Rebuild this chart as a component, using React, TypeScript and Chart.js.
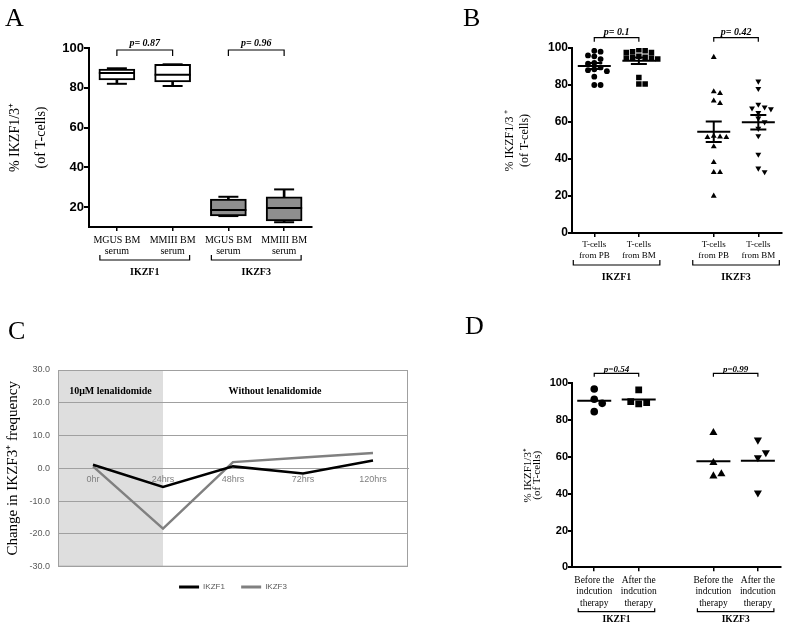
import React, { useEffect, useRef } from 'react';
import { Chart, registerables } from 'chart.js';

Chart.register(...registerables);

const SERIF = '"Liberation Serif", "Times New Roman", serif';
const SANS = '"Liberation Sans", Arial, sans-serif';

// ---------------- Panel A (box plots) ----------------
const A_CATEGORIES = [['MGUS BM', 'serum'], ['MMIII BM', 'serum'], ['MGUS BM', 'serum'], ['MMIII BM', 'serum']];
const A_MIN = [82.0, 80.9, 15.5, 12.4];
const A_Q1 = [83.9, 82.9, 15.6, 13.1];
const A_MEDIAN = [87.4, 86.6, 18.6, 19.6];
const A_Q3 = [89.4, 91.8, 24.0, 25.2];
const A_MAX = [89.8, 91.8, 25.2, 28.9];
const A_Y_TICKS = [20, 40, 60, 80, 100];
const A_GENES = ['IKZF1', 'IKZF3'];
const A_P_VALUES = ['p= 0.87', 'p= 0.96'];

// ---------------- Panel B (dot plots, mean ± SEM) ----------------
const B_CATEGORIES = [['T-cells', 'from PB'], ['T-cells', 'from BM'], ['T-cells', 'from PB'], ['T-cells', 'from BM']];
const B_IKZF1_PB = [98.5, 98, 96, 95.5, 94, 92, 91.5, 89.5, 88.5, 88, 87.5, 84.5, 80, 80];
const B_IKZF1_BM = [99, 98.5, 98, 97.5, 97.5, 95.5, 95, 95, 94.5, 94.5, 94, 84, 80.5, 80.5];
const B_IKZF3_PB = [95, 76.4, 75.5, 71.4, 70.1, 52.4, 52, 51.7, 51.7, 46.7, 38.2, 32.8, 32.8, 20];
const B_IKZF3_BM = [82, 78, 69.5, 68, 67.5, 67, 65, 62, 60, 56.5, 52.5, 42.5, 35, 33];
const B_GENES = ['IKZF1', 'IKZF3'];
const B_P_VALUES = ['p= 0.1', 'p= 0.42'];

// ---------------- Panel C (time course) ----------------
const C_TIMES = ['0hr', '24hrs', '48hrs', '72hrs', '120hrs'];
const C_IKZF1 = [1.1, -5.7, 0.6, -1.6, 2.4];
const C_IKZF3 = [0.6, -18.4, 1.9, 3.3, 4.7];
const C_PHASES = ['10\u03bcM lenalidomide', 'Without lenalidomide'];

// ---------------- Panel D (dot plots, mean) ----------------
const D_CATEGORIES = [
  ['Before the', 'indcution', 'therapy'],
  ['After the', 'indcution', 'therapy'],
  ['Before the', 'indcution', 'therapy'],
  ['After the', 'indcution', 'therapy'],
];
const D_IKZF1_BEFORE = [96.9, 91.3, 89.1, 84.6];
const D_IKZF1_AFTER = [96.4, 88.8, 89.5, 90.0];
const D_IKZF3_BEFORE = [73.2, 56.9, 49.6, 50.7];
const D_IKZF3_AFTER = [69.2, 59.6, 62.3, 40.5];
const D_GENES = ['IKZF1', 'IKZF3'];
const D_P_VALUES = ['p=0.54', 'p=0.99'];

// column positions on the dot-plot x axes (layout)
const COLUMN_POS = [1, 2, 3.68, 4.68];

const mean = (a: number[]) => a.reduce((s, v) => s + v, 0) / a.length;
const sem = (a: number[]) => {
  const m = mean(a);
  const sd = Math.sqrt(a.reduce((s, v) => s + (v - m) * (v - m), 0) / (a.length - 1));
  return sd / Math.sqrt(a.length);
};

// greedy scatter-dot layout: a point moves sideways when it would overlap another
function beeswarm(values: number[], center: number, pxPerY: number, pxPerX: number, size: number) {
  const placed: { k: number; v: number }[] = [];
  const slots = [0, 1, -1, 2, -2, 3, -3, 4, -4];
  const minGap = 0.8 * size;
  return values.map((v) => {
    let k = 0;
    for (const s of slots) {
      if (placed.every((p) => p.k !== s || Math.abs(p.v - v) * pxPerY >= minGap)) {
        k = s;
        break;
      }
    }
    placed.push({ k, v });
    return { x: center + (k * size) / pxPerX, y: v };
  });
}

function annotationPlugin(c: any) {
  return {
    id: c.id,
    afterDraw(chart: any) {
      const { ctx, chartArea: a } = chart;
      const x = chart.scales.x;
      ctx.save();
      ctx.strokeStyle = '#000';
      ctx.fillStyle = '#000';
      ctx.lineWidth = 1.2;
      ctx.textAlign = 'center';
      ctx.textBaseline = 'middle';
      c.genes.forEach((gene: string, g: number) => {
        const x1 = x.getPixelForValue(c.xs[g * 2]);
        const x2 = x.getPixelForValue(c.xs[g * 2 + 1]);
        const py = a.top + c.pLineDy;
        ctx.beginPath();
        ctx.moveTo(x1, py + c.pTickDy);
        ctx.lineTo(x1, py);
        ctx.lineTo(x2, py);
        ctx.lineTo(x2, py + c.pTickDy);
        ctx.stroke();
        ctx.font = `italic bold ${c.pFontSize}px ${SERIF}`;
        ctx.fillText(c.pValues[g], (x1 + x2) / 2, a.top + c.pTextDy);
        const gy = a.bottom + c.gLineDy;
        ctx.beginPath();
        ctx.moveTo(x1 - c.gExtend, gy - c.gTickDy);
        ctx.lineTo(x1 - c.gExtend, gy);
        ctx.lineTo(x2 + c.gExtend, gy);
        ctx.lineTo(x2 + c.gExtend, gy - c.gTickDy);
        ctx.stroke();
        ctx.font = `bold ${c.gFontSize}px ${SERIF}`;
        ctx.fillText(gene, (x1 + x2) / 2, a.bottom + c.gTextDy);
      });
      ctx.restore();
    },
  };
}

function makeA(canvas: HTMLCanvasElement) {
  const boxFill = ['#ffffff', '#ffffff', '#8f8f8f', '#8f8f8f'];
  const capLine = (data: number[], r: number) => ({
    type: 'line',
    data,
    showLine: false,
    pointStyle: 'line',
    pointRadius: r,
    pointHoverRadius: r,
    pointBorderWidth: 2,
    pointBorderColor: '#000',
  });
  return new Chart(canvas, {
    type: 'bar',
    data: {
      labels: A_CATEGORIES,
      datasets: [
        capLine(A_MEDIAN, 18),
        capLine(A_MAX, 10),
        capLine(A_MIN, 10),
        {
          type: 'bar',
          data: A_Q1.map((q, i) => [q, A_Q3[i]]),
          backgroundColor: boxFill,
          borderColor: '#000',
          borderWidth: 2,
          borderSkipped: false,
          barThickness: 36,
          grouped: false,
        },
        {
          type: 'bar',
          data: A_MIN.map((m, i) => [m, A_MAX[i]]),
          backgroundColor: '#000',
          borderWidth: 0,
          barThickness: 2,
          grouped: false,
        },
      ] as any,
    },
    options: {
      responsive: false,
      animation: false,
      layout: { padding: { top: 48, right: 88, bottom: 0, left: 0 } },
      plugins: { legend: { display: false }, tooltip: { enabled: false } },
      scales: {
        x: {
          offset: true,
          grid: { offset: false, drawOnChartArea: false, tickLength: 4, color: '#000', lineWidth: 1.5 },
          border: { color: '#000', width: 2 },
          ticks: { color: '#000', font: { family: SERIF, size: 10, lineHeight: 1.1 }, padding: 3.5, maxRotation: 0, autoSkip: false },
          afterFit: (s: any) => { s.height = 78; },
        },
        y: {
          min: 10,
          max: 100,
          afterBuildTicks: (s: any) => { s.ticks = A_Y_TICKS.map((v) => ({ value: v })); },
          grid: { drawOnChartArea: false, tickLength: 5, color: '#000', lineWidth: 2 },
          border: { color: '#000', width: 2 },
          ticks: { color: '#000', font: { family: SANS, size: 13, weight: 'bold' }, padding: 0 },
          title: {
            display: true,
            text: ['% IKZF1/3\u207a', '(of T-cells)'],
            color: '#000',
            font: { family: SERIF, size: 14, lineHeight: 1.85 },
            padding: { top: 2, bottom: 0 },
          },
          afterFit: (s: any) => { s.width = 89; },
        },
      },
    } as any,
    plugins: [
      annotationPlugin({
        id: 'annA', xs: [0, 1, 2, 3], genes: A_GENES, pValues: A_P_VALUES, pFontSize: 10,
        pTextDy: -5, pLineDy: 2, pTickDy: 6, gLineDy: 33, gTickDy: 5, gTextDy: 45, gExtend: 17, gFontSize: 10,
      }),
    ],
  });
}

function makeDots(canvas: HTMLCanvasElement, cfg: any) {
  const datasets: any[] = [];
  cfg.groups.forEach((vals: number[], i: number) => {
    const st = cfg.styles[i];
    datasets.push({
      data: beeswarm(vals, COLUMN_POS[i], cfg.pxPerY, cfg.pxPerX, cfg.slot),
      pointStyle: st.pointStyle,
      pointRadius: st.radius,
      pointHoverRadius: st.radius,
      pointRotation: st.rotation,
      pointBackgroundColor: '#000',
      pointBorderWidth: 0,
    });
  });
  const means = cfg.groups.map((vals: number[], i: number) => ({ x: COLUMN_POS[i], y: mean(vals) }));
  datasets.push({
    data: means,
    pointStyle: 'line',
    pointRadius: cfg.meanRadius,
    pointHoverRadius: cfg.meanRadius,
    pointBorderWidth: 2,
    pointBorderColor: '#000',
  });
  if (cfg.showSem) {
    const sems = cfg.groups.map((vals: number[]) => sem(vals));
    datasets.push({
      data: means.flatMap((m: any, i: number) => [
        { x: m.x, y: m.y - sems[i] },
        { x: m.x, y: m.y + sems[i] },
        { x: m.x, y: null },
      ]),
      showLine: true,
      borderColor: '#000',
      borderWidth: 2,
      pointRadius: 0,
      pointHoverRadius: 0,
    });
    datasets.push({
      data: means.flatMap((m: any, i: number) => [
        { x: m.x, y: m.y - sems[i] },
        { x: m.x, y: m.y + sems[i] },
      ]),
      pointStyle: 'line',
      pointRadius: 8,
      pointHoverRadius: 8,
      pointBorderWidth: 2,
      pointBorderColor: '#000',
    });
  }
  return new Chart(canvas, {
    type: 'scatter',
    data: { datasets },
    options: {
      responsive: false,
      animation: false,
      layout: { padding: cfg.padding },
      plugins: { legend: { display: false }, tooltip: { enabled: false } },
      scales: {
        x: {
          type: 'linear',
          min: 0.5,
          max: 5.2,
          afterBuildTicks: (s: any) => { s.ticks = COLUMN_POS.map((v) => ({ value: v })); },
          grid: { drawOnChartArea: false, tickLength: 4, color: '#000', lineWidth: 1.5 },
          border: { color: '#000', width: 2 },
          ticks: {
            color: '#000',
            font: { family: SERIF, size: cfg.xFont, lineHeight: cfg.xLineHeight },
            padding: cfg.xPad,
            maxRotation: 0,
            autoSkip: false,
            callback: (_v: any, i: number) => cfg.categories[i],
          },
          afterFit: (s: any) => { s.height = cfg.xHeight; },
        },
        y: {
          min: 0,
          max: 100,
          ticks: { stepSize: 20, color: '#000', font: { family: SANS, size: cfg.yFont, weight: 'bold' }, padding: 0 },
          grid: { drawOnChartArea: false, tickLength: 4, color: '#000', lineWidth: 2 },
          border: { color: '#000', width: 2 },
          title: {
            display: true,
            text: cfg.yTitle,
            color: '#000',
            font: { family: SERIF, size: cfg.titleFont, lineHeight: cfg.titleLineHeight },
            padding: { top: cfg.titlePad, bottom: 0 },
          },
          afterFit: (s: any) => { s.width = cfg.yWidth; },
        },
      },
    } as any,
    plugins: [annotationPlugin({ id: cfg.id, xs: COLUMN_POS, ...cfg.anno })],
  });
}

function makeC(canvas: HTMLCanvasElement) {
  const shade = {
    id: 'cShade',
    beforeDraw(chart: any) {
      const { ctx, chartArea: a, scales } = chart;
      const xEnd = scales.x.getPixelForValue(1);
      ctx.save();
      ctx.fillStyle = '#dedede';
      ctx.fillRect(a.left, a.top, xEnd - a.left, a.bottom - a.top);
      ctx.restore();
    },
    afterDraw(chart: any) {
      const { ctx, chartArea: a, scales } = chart;
      const xEnd = scales.x.getPixelForValue(1);
      ctx.save();
      ctx.strokeStyle = '#a0a0a0';
      ctx.lineWidth = 1;
      ctx.strokeRect(a.left + 0.5, a.top + 0.5, a.right - a.left - 1, a.bottom - a.top - 1);
      ctx.fillStyle = '#000';
      ctx.font = `bold 10px ${SERIF}`;
      ctx.textAlign = 'center';
      ctx.textBaseline = 'middle';
      ctx.fillText(C_PHASES[0], (a.left + xEnd) / 2, a.top + 21);
      ctx.fillText(C_PHASES[1], scales.x.getPixelForValue(2.6), a.top + 21);
      ctx.restore();
    },
  };
  return new Chart(canvas, {
    type: 'line',
    data: {
      labels: C_TIMES,
      datasets: [
        { label: 'IKZF1', data: C_IKZF1, borderColor: '#000000', backgroundColor: '#000000', borderWidth: 2.5, pointRadius: 0, tension: 0 },
        { label: 'IKZF3', data: C_IKZF3, borderColor: '#808080', backgroundColor: '#808080', borderWidth: 2.5, pointRadius: 0, tension: 0 },
      ],
    },
    options: {
      responsive: false,
      animation: false,
      layout: { padding: { top: 60, right: 32, left: 0, bottom: 30 } },
      plugins: {
        tooltip: { enabled: false },
        legend: {
          position: 'bottom',
          fullSize: false,
          labels: {
            boxWidth: 20,
            boxHeight: 3,
            padding: 16.3,
            color: '#595959',
            font: { family: SANS, size: 8 },
            generateLabels: (chart: any) =>
              (Chart.defaults.plugins.legend.labels.generateLabels as any)(chart).map((l: any) => ({
                ...l,
                fillStyle: l.strokeStyle,
                lineWidth: 0,
              })),
          },
        },
      },
      scales: {
        x: {
          offset: true,
          position: { y: 0 },
          grid: { drawOnChartArea: false, drawTicks: false },
          border: { color: '#a0a0a0', width: 1 },
          ticks: { color: '#7f7f7f', font: { family: SANS, size: 9 }, padding: 6, maxRotation: 0, autoSkip: false },
        },
        y: {
          min: -30,
          max: 30,
          ticks: {
            stepSize: 10,
            color: '#595959',
            font: { family: SANS, size: 9 },
            padding: 8,
            callback: (v: any) => Number(v).toFixed(1),
          },
          grid: { color: '#a0a0a0', lineWidth: 1, drawTicks: false },
          border: { color: '#a0a0a0', width: 1 },
          title: {
            display: true,
            text: 'Change in IKZF3\u207a frequency',
            color: '#000',
            font: { family: SERIF, size: 15, lineHeight: 1.2 },
            padding: { top: 4, bottom: 0 },
          },
          afterFit: (s: any) => { s.width = 58; },
        },
      },
    } as any,
    plugins: [shade],
  });
}

const letterStyle = (left: number, top: number): React.CSSProperties => ({
  position: 'absolute',
  left,
  top,
  fontFamily: SERIF,
  fontSize: 26,
  lineHeight: '26px',
  color: '#000',
});

export default function App() {
  const aRef = useRef<HTMLCanvasElement>(null);
  const bRef = useRef<HTMLCanvasElement>(null);
  const cRef = useRef<HTMLCanvasElement>(null);
  const dRef = useRef<HTMLCanvasElement>(null);

  useEffect(() => {
    const charts: Chart[] = [];
    charts.push(makeA(aRef.current!));
    charts.push(
      makeDots(bRef.current!, {
        id: 'annB',
        groups: [B_IKZF1_PB, B_IKZF1_BM, B_IKZF3_PB, B_IKZF3_BM],
        styles: [
          { pointStyle: 'circle', radius: 2.9, rotation: 0 },
          { pointStyle: 'rect', radius: 3.9, rotation: 0 },
          { pointStyle: 'triangle', radius: 3.4, rotation: 0 },
          { pointStyle: 'triangle', radius: 3.4, rotation: 180 },
        ],
        categories: B_CATEGORIES,
        showSem: true,
        meanRadius: 16.5,
        pxPerY: 1.85,
        pxPerX: 47.45,
        slot: 6.7,
        padding: { top: 48, left: 100, right: 5, bottom: 0 },
        xFont: 9,
        xLineHeight: 1.2,
        xPad: 2.6,
        xHeight: 72,
        yFont: 12,
        yTitle: ['% IKZF1/3 \u207a', '(of T-cells)'],
        titleFont: 12,
        titleLineHeight: 1.25,
        titlePad: 2.5,
        yWidth: 72,
        anno: {
          genes: B_GENES, pValues: B_P_VALUES, pFontSize: 10,
          pTextDy: -15.7, pLineDy: -10.3, pTickDy: 4, gLineDy: 32, gTickDy: 5, gTextDy: 44, gExtend: 21, gFontSize: 10,
        },
      })
    );
    charts.push(makeC(cRef.current!));
    charts.push(
      makeDots(dRef.current!, {
        id: 'annD',
        groups: [D_IKZF1_BEFORE, D_IKZF1_AFTER, D_IKZF3_BEFORE, D_IKZF3_AFTER],
        styles: [
          { pointStyle: 'circle', radius: 3.8, rotation: 0 },
          { pointStyle: 'rect', radius: 4.8, rotation: 0 },
          { pointStyle: 'triangle', radius: 4.7, rotation: 0 },
          { pointStyle: 'triangle', radius: 4.7, rotation: 180 },
        ],
        categories: D_CATEGORIES,
        showSem: false,
        meanRadius: 17,
        pxPerY: 1.84,
        pxPerX: 47.45,
        slot: 8.5,
        padding: { top: 73.3, left: 110, right: 5, bottom: 0 },
        xFont: 9.5,
        xLineHeight: 1.19,
        xPad: 3.7,
        xHeight: 63.7,
        yFont: 11,
        yTitle: ['% IKZF1/3\u207a', '(of T-cells)'],
        titleFont: 11,
        titleLineHeight: 0.8,
        titlePad: 13.9,
        yWidth: 62,
        anno: {
          genes: D_GENES, pValues: D_P_VALUES, pFontSize: 9,
          pTextDy: -14, pLineDy: -10, pTickDy: 3.4, gLineDy: 44.4, gTickDy: 3.4, gTextDy: 52, gExtend: 16, gFontSize: 9.5,
        },
      })
    );
    return () => charts.forEach((c) => c.destroy());
  }, []);

  return (
    <div style={{ position: 'absolute', left: 0, top: 0, width: 800, height: 631, background: '#fff', overflow: 'hidden' }}>
      <canvas ref={aRef} width={400} height={305} style={{ position: 'absolute', left: 0, top: 0, width: 400, height: 305 }} />
      <canvas ref={bRef} width={400} height={305} style={{ position: 'absolute', left: 400, top: 0, width: 400, height: 305 }} />
      <canvas ref={cRef} width={440} height={321} style={{ position: 'absolute', left: 0, top: 310, width: 440, height: 321 }} />
      <canvas ref={dRef} width={400} height={321} style={{ position: 'absolute', left: 400, top: 310, width: 400, height: 321 }} />
      <div style={letterStyle(5, 5)}>A</div>
      <div style={letterStyle(463, 5)}>B</div>
      <div style={letterStyle(8, 318)}>C</div>
      <div style={letterStyle(465, 313)}>D</div>
    </div>
  );
}
